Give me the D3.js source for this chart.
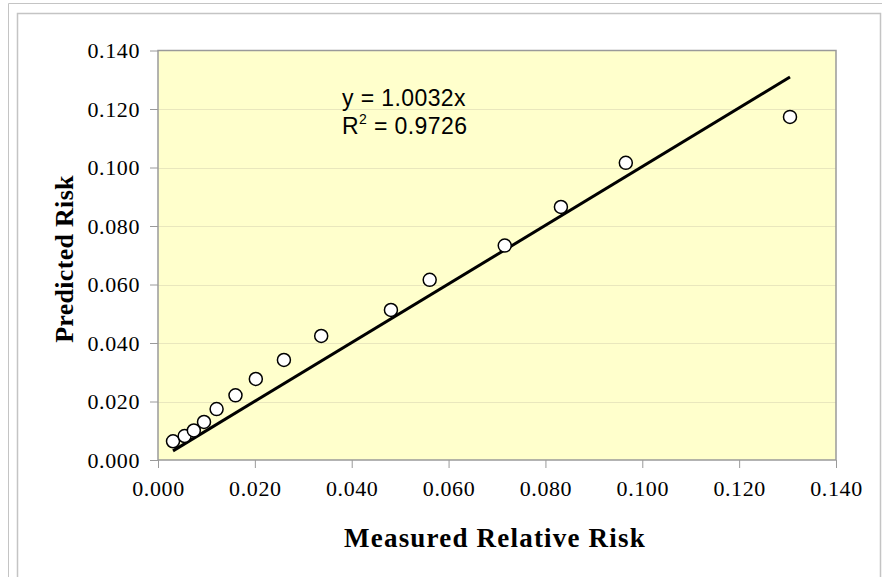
<!DOCTYPE html>
<html>
<head>
<meta charset="utf-8">
<script src="https://cdn.jsdelivr.net/npm/d3@7"></script>
<style>
  html, body { margin: 0; padding: 0; background: #ffffff; }
  svg { display: block; }
</style>
</head>
<body>
<svg id="chart" width="882" height="577"></svg>
<script>
// Measured relative risk vs predicted risk
const measured  = [0.0031, 0.0055, 0.0074, 0.0095, 0.0121, 0.0160, 0.0202, 0.0260, 0.0337, 0.0481, 0.0561, 0.0716, 0.0832, 0.0966, 0.1305];
const predicted = [0.0064, 0.0082, 0.0101, 0.0130, 0.0174, 0.0221, 0.0277, 0.0342, 0.0424, 0.0513, 0.0616, 0.0733, 0.0865, 0.1016, 0.1173];
const xTicks = [0, 0.02, 0.04, 0.06, 0.08, 0.10, 0.12, 0.14];
const yTicks = [0, 0.02, 0.04, 0.06, 0.08, 0.10, 0.12, 0.14];
const slope = 1.0032;
const fitLabel = "y = 1.0032x";
const r2Value = "0.9726";

const svg = d3.select("#chart");

// Chart frame
svg.append("path")
  .attr("d", "M8.5,577 V3.5 H882")
  .attr("fill", "none").attr("stroke", "#c4c4c4").attr("stroke-width", 1);
svg.append("path")
  .attr("d", "M17.5,577 V13.5 H880.5 V577")
  .attr("fill", "none").attr("stroke", "#c4c4c4").attr("stroke-width", 1.5);

const plot = { left: 158, right: 836, top: 50.5, bottom: 460 };

const x = d3.scaleLinear().domain([0, 0.14]).range([plot.left, plot.right]);
const y = d3.scaleLinear().domain([0, 0.14]).range([plot.bottom, plot.top]);

// Plot area background
svg.append("rect")
  .attr("x", plot.left).attr("y", plot.top)
  .attr("width", plot.right - plot.left).attr("height", plot.bottom - plot.top)
  .attr("fill", "#ffffcc");

// Horizontal gridlines
svg.append("g")
  .selectAll("line")
  .data(yTicks.slice(1, -1))
  .join("line")
  .attr("x1", plot.left).attr("x2", plot.right)
  .attr("y1", d => Math.round(y(d)) + 0.5).attr("y2", d => Math.round(y(d)) + 0.5)
  .attr("stroke", "#e9e7bd").attr("stroke-width", 1);

// Plot border
svg.append("rect")
  .attr("x", plot.left).attr("y", plot.top)
  .attr("width", plot.right - plot.left).attr("height", plot.bottom - plot.top)
  .attr("fill", "none").attr("stroke", "#9a9a9a").attr("stroke-width", 1.5);

const tickFmt = d3.format(".3f");

// X axis
const xAxis = svg.append("g")
  .attr("transform", `translate(0,${plot.bottom})`)
  .call(d3.axisBottom(x).tickValues(xTicks).tickFormat(tickFmt).tickSize(8).tickPadding(12));
xAxis.select(".domain").remove();
xAxis.selectAll(".tick line").attr("stroke", "#9a9a9a").attr("stroke-width", 1);
xAxis.selectAll(".tick text")
  .attr("font-family", "'Liberation Serif', 'Times New Roman', serif")
  .attr("font-size", 22).attr("letter-spacing", 0.6).attr("fill", "#000");

// Y axis
const yAxis = svg.append("g")
  .attr("transform", `translate(${plot.left},0)`)
  .call(d3.axisLeft(y).tickValues(yTicks).tickFormat(tickFmt).tickSize(8).tickPadding(10));
yAxis.select(".domain").remove();
yAxis.selectAll(".tick line").attr("stroke", "#9a9a9a").attr("stroke-width", 1);
yAxis.selectAll(".tick text")
  .attr("font-family", "'Liberation Serif', 'Times New Roman', serif")
  .attr("font-size", 22).attr("letter-spacing", 0.6).attr("fill", "#000");

// Linear trendline through the origin
const xMin = d3.min(measured), xMax = d3.max(measured);
svg.append("line")
  .attr("x1", x(xMin)).attr("y1", y(slope * xMin))
  .attr("x2", x(xMax)).attr("y2", y(slope * xMax))
  .attr("stroke", "#000").attr("stroke-width", 3).attr("stroke-linecap", "butt");

// Data points
svg.append("g")
  .selectAll("circle")
  .data(measured.map((m, i) => [m, predicted[i]]))
  .join("circle")
  .attr("cx", d => x(d[0])).attr("cy", d => y(d[1]))
  .attr("r", 6.5)
  .attr("fill", "#fff").attr("stroke", "#000").attr("stroke-width", 1.5);

// Trendline equation
const eq = svg.append("g")
  .attr("font-family", "'Liberation Sans', Arial, sans-serif")
  .attr("font-size", 23).attr("fill", "#000");
eq.append("text").attr("x", 342).attr("y", 106).attr("letter-spacing", 0.4).text(fitLabel);
const r2 = eq.append("text").attr("x", 342).attr("y", 134).attr("letter-spacing", 0.4);
r2.append("tspan").text("R");
r2.append("tspan").attr("font-size", 14).attr("dy", -10).text("2");
r2.append("tspan").attr("dy", 10).text(" = " + r2Value);

// Axis titles
svg.append("text")
  .attr("x", 495).attr("y", 547)
  .attr("text-anchor", "middle")
  .attr("font-family", "'Liberation Serif', 'Times New Roman', serif")
  .attr("font-weight", "bold").attr("font-size", 27).attr("letter-spacing", 1.2)
  .attr("fill", "#000")
  .text("Measured Relative Risk");

svg.append("text")
  .attr("transform", "translate(73,259) rotate(-90)")
  .attr("text-anchor", "middle")
  .attr("font-family", "'Liberation Serif', 'Times New Roman', serif")
  .attr("font-weight", "bold").attr("font-size", 26).attr("letter-spacing", 0.3)
  .attr("fill", "#000")
  .text("Predicted Risk");
</script>
</body>
</html>
